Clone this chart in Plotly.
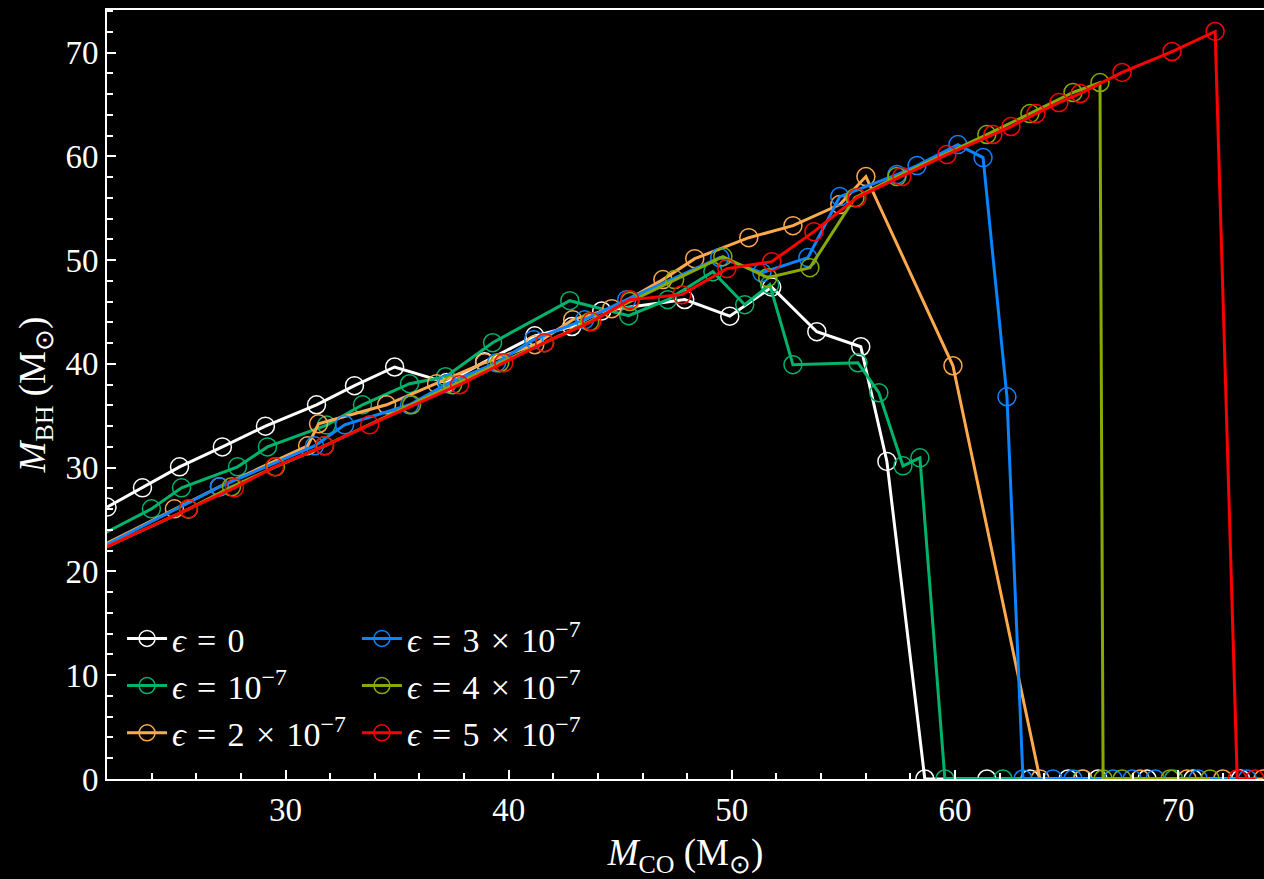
import plotly.graph_objects as go

# ---- data ----
x_e0 = [22.0, 23.59, 25.25, 27.17, 29.10, 31.39, 33.09, 34.89, 37.22, 38.92, 41.17, 42.83, 44.17, 47.89, 49.91, 51.79, 53.81, 55.78, 56.95, 58.65, 61.43, 63.36, 65.07, 66.41, 68.61, 70.67, 72.8]
y_e0 = [26.2, 28.06, 30.08, 32.0, 34.0, 36.06, 37.9, 39.7, 38.2, 40.2, 42.7, 43.6, 45.1, 46.2, 44.6, 47.4, 43.1, 41.65, 30.6, 0, 0, 0, 0, 0, 0, 0, 0]

x_e1 = [21.0, 23.99, 25.34, 27.85, 29.19, 31.84, 33.45, 35.56, 37.17, 39.28, 42.74, 45.38, 47.13, 49.15, 50.58, 51.70, 52.74, 55.65, 56.59, 57.67, 58.43, 59.55, 62.15, 65.7, 69.8]
y_e1 = [22.7, 26.03, 28.06, 30.08, 32.0, 34.1, 36.06, 38.09, 38.76, 42.04, 46.09, 44.64, 46.19, 48.89, 45.7, 47.63, 39.92, 40.11, 37.22, 30.18, 30.95, 0, 0, 0, 0]

x_e2 = [21.0, 25.02, 27.04, 30.99, 31.48, 34.53, 36.77, 38.92, 41.17, 42.87, 44.62, 46.91, 48.34, 50.76, 52.74, 54.84, 56.01, 59.91, 63.81, 65.74, 68.3, 70.4, 72.0, 73.8]
y_e2 = [21.65, 26.03, 28.16, 32.1, 34.23, 36.06, 38.09, 40.11, 41.85, 44.26, 45.32, 48.12, 50.14, 52.16, 53.32, 55.35, 58.05, 39.82, 0, 0, 0, 0, 0, 0]

x_e3 = [21.0, 27.04, 31.3, 32.65, 35.56, 37.26, 39.46, 41.12, 43.41, 45.29, 49.46, 51.35, 53.41, 54.84, 57.4, 58.3, 60.13, 61.26, 62.33, 63.05, 64.39, 65.29, 67.09, 67.94, 68.97, 70.9, 73.1]
y_e3 = [21.5, 28.16, 32.1, 34.13, 36.06, 38.09, 40.11, 42.33, 44.26, 46.19, 50.24, 48.79, 50.24, 56.12, 58.24, 59.11, 61.13, 59.88, 36.83, 0, 0, 0, 0, 0, 0, 0, 0]

x_e4 = [21.0, 25.65, 27.58, 29.55, 31.75, 35.65, 37.49, 39.6, 41.61, 43.63, 45.43, 47.44, 49.6, 51.61, 53.5, 55.52, 57.4, 61.43, 63.36, 65.29, 66.5, 66.64, 67.49, 69.64, 71.43]
y_e4 = [21.4, 26.0, 28.16, 30.08, 32.1, 36.06, 37.99, 40.11, 42.04, 44.07, 46.0, 48.12, 50.33, 48.31, 49.27, 56.02, 58.05, 62.1, 64.12, 66.15, 67.11, 0, 0, 0, 0]

x_e5 = [21.0, 25.65, 27.71, 29.51, 31.75, 33.77, 37.8, 39.78, 41.61, 43.72, 45.43, 47.76, 49.78, 51.79, 53.68, 55.61, 57.62, 59.64, 61.7, 62.51, 63.63, 64.66, 65.61, 67.49, 69.73, 71.66, 72.65, 73.45]
y_e5 = [21.4, 26.03, 28.06, 30.08, 32.1, 34.13, 37.99, 40.11, 42.04, 44.07, 46.19, 46.67, 49.18, 49.85, 52.74, 56.02, 58.05, 60.17, 62.1, 62.87, 64.12, 65.18, 66.05, 68.08, 70.1, 72.03, 0, 0]

S = "\u2004"
labels = [f"<i>ϵ</i>{S}={S}0",
          f"<i>ϵ</i>{S}={S}10<sup>−7</sup>",
          f"<i>ϵ</i>{S}={S}2{S}×{S}10<sup>−7</sup>",
          f"<i>ϵ</i>{S}={S}3{S}×{S}10<sup>−7</sup>",
          f"<i>ϵ</i>{S}={S}4{S}×{S}10<sup>−7</sup>",
          f"<i>ϵ</i>{S}={S}5{S}×{S}10<sup>−7</sup>"]
colors = ["#ffffff", "#00b36b", "#ffa94d", "#0a84ff", "#88aa00", "#ff0000"]
xs = [x_e0, x_e1, x_e2, x_e3, x_e4, x_e5]
ys = [y_e0, y_e1, y_e2, y_e3, y_e4, y_e5]
legends = ["legend", "legend", "legend", "legend2", "legend2", "legend2"]

x_ticks = [30, 40, 50, 60, 70]
y_ticks = [0, 10, 20, 30, 40, 50, 60, 70]

FONT = "Liberation Serif"

fig = go.Figure()
for i in range(6):
    fig.add_trace(go.Scatter(
        x=xs[i], y=ys[i], mode="lines+markers", name=labels[i],
        line=dict(color=colors[i], width=3),
        marker=dict(symbol="circle-open", size=18, color=colors[i], line=dict(width=1.5, color=colors[i])),
        legend=legends[i], legendgroup=str(i),
    ))

axis_common = dict(
    showline=True, linecolor="white", linewidth=2,
    ticks="inside", tickcolor="white", ticklen=9, tickwidth=1.5,
    showgrid=False, zeroline=False,
    tickfont=dict(family=FONT, size=33, color="white"),
)

fig.update_layout(
    width=1264, height=879,
    paper_bgcolor="black", plot_bgcolor="black",
    margin=dict(l=107, r=0, t=10, b=100),
    font=dict(family=FONT, color="white"),
    xaxis=dict(range=[22, 73.85], tickvals=x_ticks, mirror=True,
               minor=dict(dtick=2, tick0=0, ticks="inside", ticklen=6, tickcolor="white", tickwidth=1.5),
               title=dict(text="<i>M</i><sub>CO</sub> (M<sub>⊙</sub>)", font=dict(family=FONT, size=37, color="white"), standoff=17),
               **axis_common),
    yaxis=dict(range=[0, 74.1], tickvals=y_ticks,
               minor=dict(dtick=2, tick0=0, ticks="inside", ticklen=6, tickcolor="white", tickwidth=1.5),
               title=dict(text="<i>M</i><sub>BH</sub> (M<sub>⊙</sub>)", font=dict(family=FONT, size=37, color="white"), standoff=8),
               **axis_common),
    legend=dict(x=0.013, y=0.22, xanchor="left", yanchor="top", bgcolor="rgba(0,0,0,0)",
                font=dict(family=FONT, size=34, color="white"), tracegroupgap=0, itemwidth=40),
    legend2=dict(x=0.216, y=0.22, xanchor="left", yanchor="top", bgcolor="rgba(0,0,0,0)",
                 font=dict(family=FONT, size=34, color="white"), tracegroupgap=0, itemwidth=40),
)

fig.write_html("out.html")
